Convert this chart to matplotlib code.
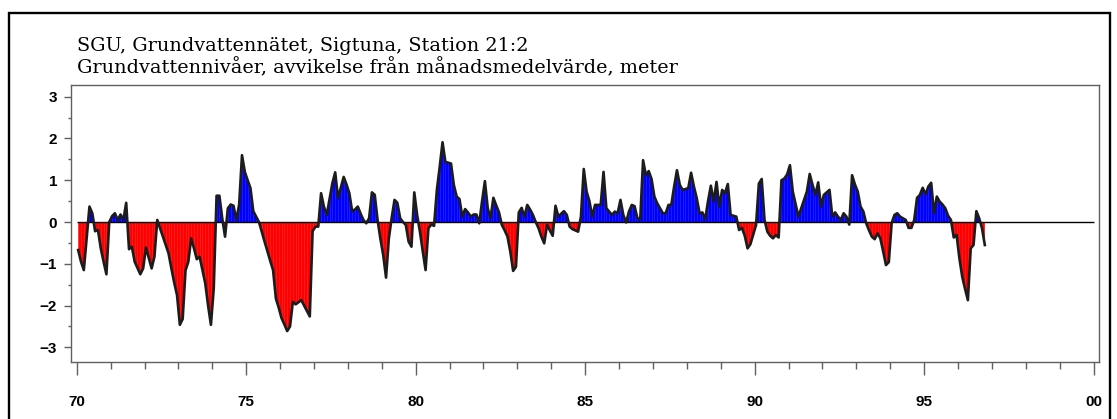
import matplotlib
matplotlib.use("Agg")
import matplotlib.pyplot as plt
import numpy as np
from matplotlib.patches import Rectangle

# monthly deviation from monthly mean (m), Jan 1970 onwards, plotted mid-month
start_year = 70
dev_1970s = [
    -0.67, -0.95, -1.15, -0.40, 0.37, 0.21, -0.22, -0.19, -0.63, -0.95, -1.25, 0.00,
    0.14, 0.21, 0.05, 0.18, 0.05, 0.46, -0.65, -0.59, -0.95, -1.10, -1.25, -1.11,
    -0.61, -0.86, -1.11, -0.83, 0.05, -0.15, -0.35, -0.55, -0.75, -1.11, -1.45, -1.75,
    -2.46, -2.32, -1.16, -0.95, -0.39, -0.63, -0.89, -0.83, -1.15, -1.47, -2.00, -2.46,
    -1.59, 0.63, 0.63, 0.09, -0.35, 0.33, 0.42, 0.39, 0.05, 0.42, 1.60, 1.20,
    1.00, 0.81, 0.26, 0.13, 0.00, -0.23, -0.47, -0.70, -0.93, -1.15, -1.83, -2.05,
    -2.30, -2.45, -2.61, -2.50, -1.91, -1.97, -1.92, -1.87, -2.00, -2.13, -2.26, -0.22,
    -0.11, -0.11, 0.69, 0.37, 0.17, 0.55, 0.93, 1.19, 0.57, 0.82, 1.08, 0.90,
    0.69, 0.26, 0.30, 0.37, 0.20, 0.05, -0.03, 0.09, 0.71, 0.65, 0.05, -0.40,
    -0.79, -1.33, -0.39, 0.10, 0.53, 0.46, 0.09, 0.00, -0.07, -0.47, -0.59, 0.71,
]
dev_1980s = [
    0.17, -0.23, -0.70, -1.15, -0.15, -0.06, -0.09, 0.77, 1.32, 1.91, 1.44, 1.42,
    1.40, 0.89, 0.61, 0.55, 0.13, 0.31, 0.23, 0.13, 0.18, 0.18, -0.03, 0.50,
    0.98, 0.33, 0.09, 0.58, 0.40, 0.23, -0.07, -0.20, -0.35, -0.71, -1.17, -1.07,
    0.23, 0.34, 0.13, 0.41, 0.30, 0.17, 0.00, -0.15, -0.35, -0.51, -0.07, -0.20,
    -0.33, 0.39, 0.13, 0.20, 0.26, 0.17, -0.11, -0.17, -0.20, -0.23, 0.13, 1.27,
    0.73, 0.50, 0.13, 0.41, 0.41, 0.41, 1.20, 0.33, 0.25, 0.17, 0.25, 0.21,
    0.53, 0.17, -0.01, 0.25, 0.41, 0.38, 0.09, 0.07, 1.48, 1.12, 1.22, 1.03,
    0.61, 0.45, 0.33, 0.21, 0.21, 0.41, 0.41, 0.85, 1.24, 0.89, 0.77, 0.79,
    0.81, 1.18, 0.85, 0.57, 0.21, 0.23, 0.07, 0.50, 0.87, 0.49, 0.96, 0.37,
    0.77, 0.69, 0.91, 0.17, 0.15, 0.13, -0.19, -0.14, -0.33, -0.63, -0.53, -0.30,
]
dev_1990s = [
    -0.07, 0.92, 1.03, 0.05, -0.23, -0.33, -0.39, -0.31, -0.37, 1.00, 1.04, 1.14,
    1.36, 0.73, 0.43, 0.13, 0.33, 0.53, 0.73, 1.15, 0.89, 0.65, 0.95, 0.37,
    0.65, 0.71, 0.77, 0.13, 0.23, 0.13, 0.05, 0.21, 0.13, -0.06, 1.12, 0.90,
    0.73, 0.37, 0.25, -0.03, -0.20, -0.35, -0.41, -0.27, -0.39, -0.70, -1.03, -0.96,
    -0.03, 0.17, 0.21, 0.13, 0.09, 0.05, -0.14, -0.14, 0.05, 0.58, 0.65, 0.82,
    0.66, 0.85, 0.94, 0.21, 0.61, 0.49, 0.42, 0.33, 0.15, 0.05, -0.37, -0.31,
    -0.87, -1.31, -1.60, -1.87, -0.63, -0.55, 0.26, 0.09, -0.15, -0.55,
]

x_ticks = [70, 75, 80, 85, 90, 95, 100]
x_labels = ["70", "75", "80", "85", "90", "95", "00"]
y_ticks = [-3, -2, -1, 0, 1, 2, 3]
title_1 = "SGU, Grundvattennätet, Sigtuna, Station 21:2"
title_2 = "Grundvattennivåer, avvikelse från månadsmedelvärde, meter"

values = np.array(dev_1970s + dev_1980s + dev_1990s)
t = start_year + (np.arange(len(values)) + 0.5) / 12

W, H = 1117, 419
fig = plt.figure(figsize=(W / 100, H / 100), dpi=100)
ax = fig.add_axes([71 / W, 1 - 362 / H, (1099 - 71) / W, (362 - 85) / H])

ax.fill_between(t, values, 0, where=values >= 0, interpolate=True, color="#0000ff", lw=0)
ax.fill_between(t, values, 0, where=values <= 0, interpolate=True, color="#ff0000", lw=0)
ax.vlines(t, 0, values, colors="white", alpha=0.15, lw=0.5)
ax.hlines(0, 70, 100, color="black", lw=1.0, zorder=3)
ax.plot(t, values, color="#1c1c1c", lw=1.9, zorder=4)

ax.set_xlim(69.83, 100.16)
ax.set_ylim(-3.35, 3.28)
ax.set_xticks(x_ticks, x_labels)
ax.set_xticks(np.arange(70, 101), minor=True)
ax.set_yticks(y_ticks)
ax.set_yticks(np.arange(-3, 3.01, 0.5), minor=True)

for side in ax.spines.values():
    side.set_color("#606060")
    side.set_linewidth(1.0)

ax.tick_params(axis="x", which="major", length=9.5, width=1, color="#606060", pad=14)
ax.tick_params(axis="x", which="minor", length=5, width=1, color="#606060")
ax.tick_params(axis="y", which="major", length=5, width=1, color="#606060", pad=5)
ax.tick_params(axis="y", which="minor", length=2.5, width=1, color="#606060")
for lab in ax.get_xticklabels() + ax.get_yticklabels():
    lab.set_fontfamily("Liberation Sans")
    lab.set_fontweight("bold")
    lab.set_fontsize(11)

fig.text(77 / W, 1 - 51 / H, title_1, family="DejaVu Serif", fontsize=13.9, va="baseline")
fig.text(77 / W, 1 - 73 / H, title_2, family="DejaVu Serif", fontsize=13.9, va="baseline")

fig.add_artist(Rectangle((9 / W, -0.1), (1110 - 9) / W, 1.1 - 13 / H,
                         transform=fig.transFigure, fill=False, lw=1.7, ec="black"))

fig.savefig("out.png", dpi=100)
